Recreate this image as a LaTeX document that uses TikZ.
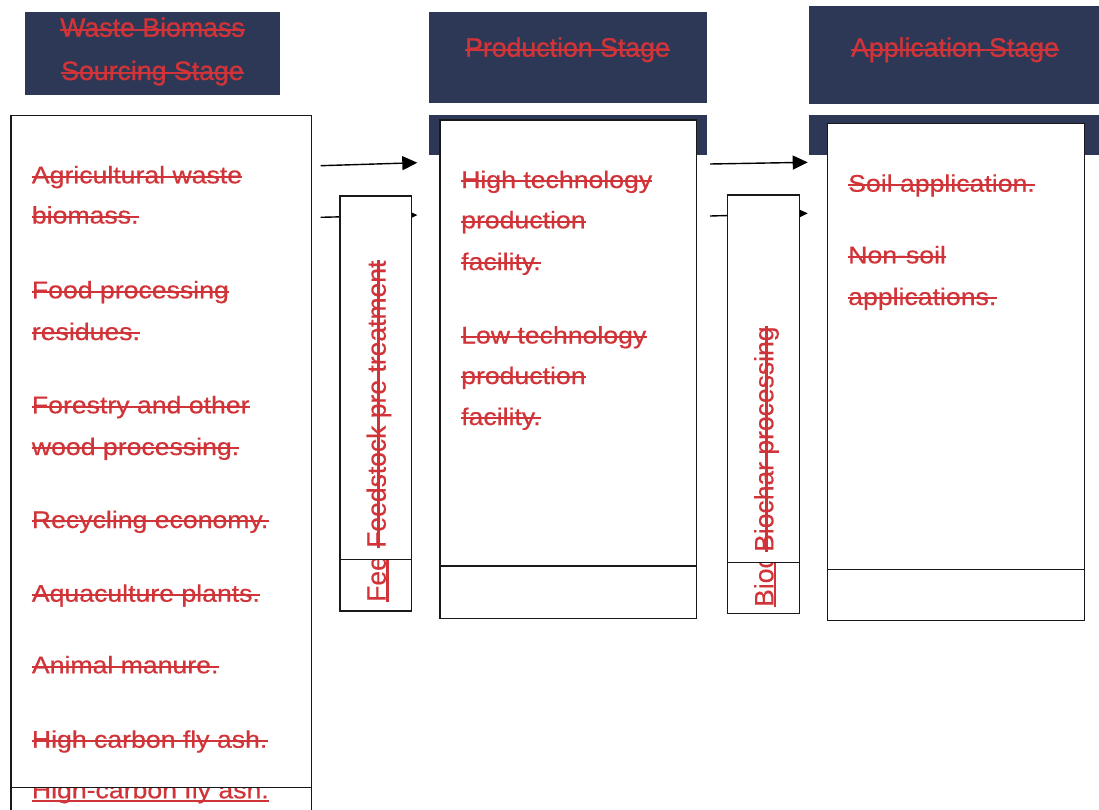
\documentclass[tikz,border=0pt]{standalone}
\usepackage{fontspec}
\usetikzlibrary{arrows.meta,fit,calc}
\setmainfont{Liberation Sans}
\newfontfamily\bodyfont[FakeStretch=1.11,FakeBold=0.5]{Liberation Sans}
\newfontfamily\headfont[FakeBold=0.9]{Liberation Sans}
\newfontfamily\vertfont[FakeBold=0.3]{Liberation Sans}
\definecolor{navy}{RGB}{44,56,86}
\definecolor{trk}{RGB}{209,52,56}
% strike-through / underline drawn along a text node's baseline
\newcommand{\strk}[2][6.6pt]{\draw[trkline] ($(#2.base west)!#1!90:(#2.base east)$) -- ($(#2.base east)!#1!-90:(#2.base west)$);}
\newcommand{\undl}[2][3pt]{\draw[trkline] ($(#2.base west)!#1!-90:(#2.base east)$) -- ($(#2.base east)!#1!90:(#2.base west)$);}
\begin{document}
\begin{tikzpicture}[x=1pt,y=-1pt,
  hdr/.style={fill=navy,draw=none,inner sep=0pt},
  box/.style={draw=black!90,line width=1.5pt,fill=white,inner sep=0pt},
  body/.style={anchor=base west,inner sep=0pt,text=trk,font=\bodyfont\fontsize{24}{28}\selectfont},
  head/.style={anchor=base,inner sep=0pt,text=trk,font=\headfont\fontsize{26.7}{30}\selectfont},
  vert/.style={anchor=base west,inner sep=0pt,text=trk,rotate=90,font=\vertfont\fontsize{26.5}{30}\selectfont},
  trkline/.style={draw=trk,line width=2.1pt},
  flow/.style={line width=1.4pt,black,-{Triangle[length=15pt,width=14pt]}}
]
\useasboundingbox (0,0) rectangle (1099,809);
\clip (0,0) rectangle (1099,809);

% header bars
\node[hdr,fit={(25.3,12) (280,95)}] (hA) {};
\node[hdr,fit={(429.3,12) (706.7,103.3)}] (hB) {};
\node[hdr,fit={(429.3,115) (706.7,155)}] (sB) {};
\node[hdr,fit={(809.3,6) (1105,104.3)}] (hC) {};
\node[hdr,fit={(809.3,115) (1105,155)}] (sC) {};

\node[head] (hA1) at (152.5,36.7) {Waste Biomass}; \strk[6.8pt]{hA1}
\node[head] (hA2) at (152.5,80) {Sourcing Stage}; \strk[6.8pt]{hA2}
\node[head] (hB1) at (567.5,56.7) {Production Stage}; \strk[6.8pt]{hB1}
\node[head] (hC1) at (955,56.7) {Application Stage}; \strk[6.8pt]{hC1}

% arrows
\coordinate (a1s) at (320.7,165.7); \coordinate (a1e) at (417.3,162.7);
\coordinate (a2s) at (320.7,217.3); \coordinate (a2e) at (417.3,215);
\coordinate (a3s) at (710,164);     \coordinate (a3e) at (807.7,162.3);
\coordinate (a4s) at (710,216);     \coordinate (a4e) at (807.7,213.3);
\draw[flow] (a1s) -- (a1e);
\draw[flow] (a2s) -- (a2e);
\draw[flow] (a3s) -- (a3e);
\draw[flow] (a4s) -- (a4e);

% sourcing box
\node[box,fit={(11,115.7) (311.7,840)}] (srcLow) {};
\node[body] (s11) at (31.7,798.3) {High-carbon fly ash.}; \undl{s11}
\node[box,fit={(11,115.7) (311.7,787.7)}] (srcUp) {};
\node[body] (s1) at (31.7,183.3) {Agricultural waste}; \strk{s1}
\node[body] (s2) at (31.7,223.5) {biomass.}; \strk{s2}
\node[body] (s3) at (31.7,298.3) {Food processing}; \strk{s3}
\node[body] (s4) at (31.7,340) {residues.}; \strk{s4}
\node[body] (s5) at (31.7,413.3) {Forestry and other}; \strk{s5}
\node[body] (s6) at (31.7,455) {wood processing.}; \strk{s6}
\node[body] (s7) at (31.7,528) {Recycling economy.}; \strk{s7}
\node[body] (s8) at (31.7,601.7) {Aquaculture plants.}; \strk{s8}
\node[body] (s9) at (31.7,673.3) {Animal manure.}; \strk{s9}
\node[body] (s10) at (31.7,747.7) {High carbon fly ash.}; \strk{s10}

% feedstock box
\node[box,fit={(340,196) (411.7,611)}] (feedLow) {};
\begin{scope}
\clip (340,196) rectangle (411.7,611);
\node[vert] (f2) at (385.7,602) {Feedstock pre treatment}; \undl[1.8pt]{f2}
\end{scope}
\node[box,fit={(340,196) (411.7,559.3)}] (feedUp) {};
\node[vert] (f1) at (385.7,548) {Feedstock pre treatment}; \strk[7.2pt]{f1}

% production box
\node[box,fit={(440,120) (696.7,618.3)}] (prodLow) {};
\node[box,fit={(440,120) (696.7,566)}] (prodUp) {};
\node[body] (p1) at (461,188) {High technology}; \strk{p1}
\node[body] (p2) at (461,228.3) {production}; \strk{p2}
\node[body] (p3) at (461,270) {facility.}; \strk{p3}
\node[body] (p4) at (461,343.5) {Low technology}; \strk{p4}
\node[body] (p5) at (461,384) {production}; \strk{p5}
\node[body] (p6) at (461,425) {facility.}; \strk{p6}

% biochar box
\node[box,fit={(727.7,195) (799.3,613.3)}] (bioLow) {};
\begin{scope}
\clip (727.7,195) rectangle (799.3,613.3);
\node[vert] (b2) at (773.3,607) {Biochar processing}; \undl[1.8pt]{b2}
\end{scope}
\node[box,fit={(727.7,195) (799.3,562.7)}] (bioUp) {};
\node[vert] (b1) at (773.3,552) {Biochar processing}; \strk[6.8pt]{b1}

% application box
\node[box,fit={(827.7,123.3) (1084.3,620.7)}] (appLow) {};
\node[box,fit={(827.7,123.3) (1084.3,569.7)}] (appUp) {};
\node[body] (c1) at (848,191.7) {Soil application.}; \strk{c1}
\node[body] (c2) at (848,263.3) {Non-soil}; \strk{c2}
\node[body] (c3) at (848,305) {applications.}; \strk{c3}
\end{tikzpicture}
\end{document}
